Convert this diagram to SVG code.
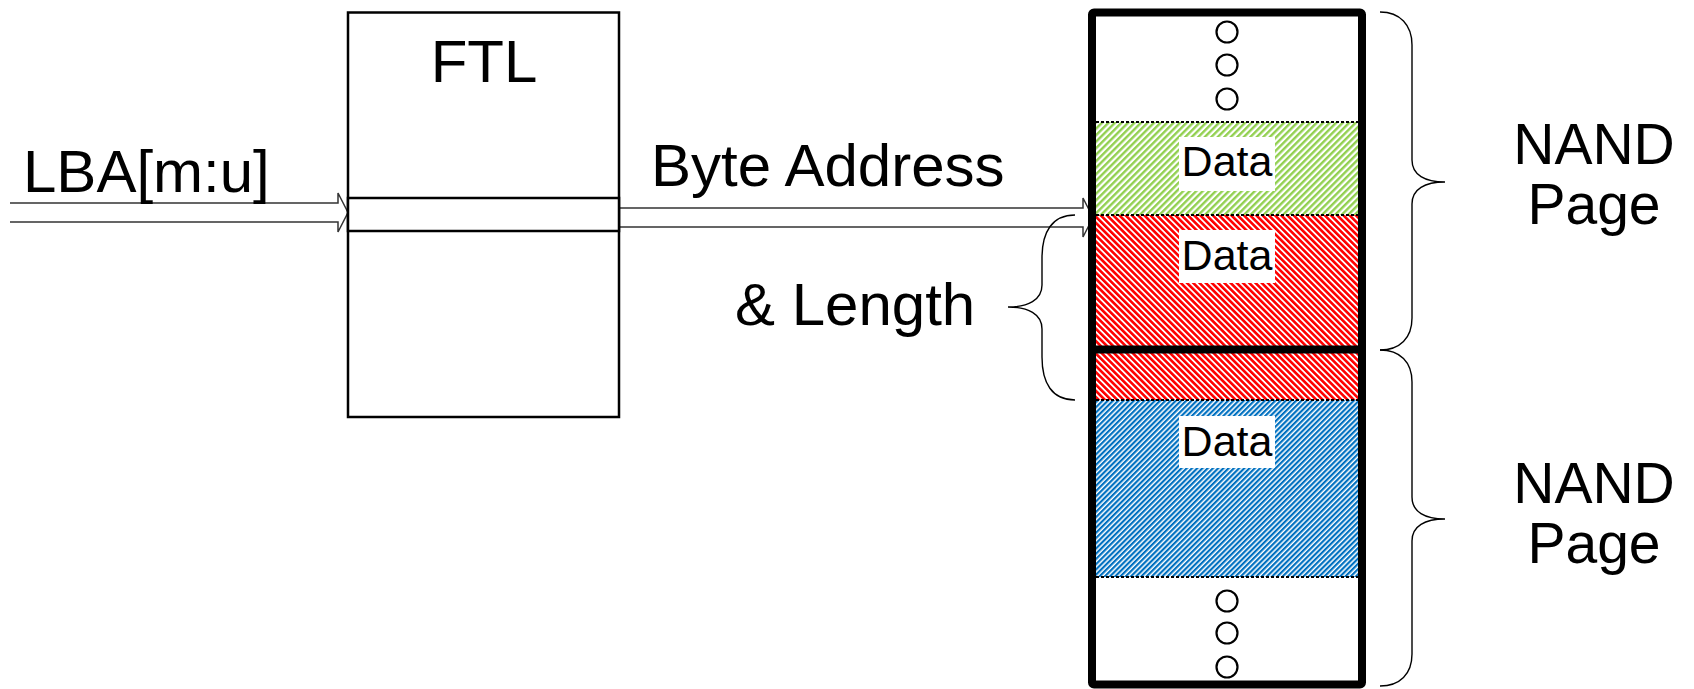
<svg xmlns="http://www.w3.org/2000/svg" width="1694" height="689" viewBox="0 0 1694 689">
<style>
.t{font-family:"Liberation Sans",Arial,sans-serif;fill:#000}
.big{font-size:60px}
.nand{font-size:57px}
.data{font-size:43px}
.conn{fill:none;stroke:#333;stroke-width:1.5;stroke-linejoin:miter}
.brace{fill:none;stroke:#000;stroke-width:1.4}
.dash{stroke:#000;stroke-width:2;stroke-dasharray:3 2}
.dot{fill:#fff;stroke:#000;stroke-width:2.2}
.lbl{fill:#fff}
</style>
<defs>
<pattern id="pg" width="4.6" height="4.6" patternUnits="userSpaceOnUse" patternTransform="rotate(45)"><rect width="2.4" height="4.6" fill="#92D050"/></pattern>
<pattern id="pr" width="4.4" height="4.4" patternUnits="userSpaceOnUse" patternTransform="rotate(-45)"><rect width="2.6" height="4.4" fill="#FF0000"/></pattern>
<pattern id="pb" width="3.7" height="3.7" patternUnits="userSpaceOnUse" patternTransform="rotate(45)"><rect width="2.2" height="3.7" fill="#0070C0"/></pattern>
</defs>
<rect width="1694" height="689" fill="#fff"/>

<g id="connectors">
<path class="conn" d="M10,203 L338,203 L338,193 L348,212.5 L338,232 L338,222 L10,222"/>
<path class="conn" d="M619,208 L1083,208 L1083,198 L1093,217.5 L1083,237 L1083,227 L619,227"/>
<path class="brace" d="M1075,215 C1052,215 1042,232 1042,258 L1042,285 C1042,300 1028,307 1008,307 C1028,307 1042,314 1042,329 L1042,357 C1042,383 1052,400 1075,400"/>
<path class="brace" d="M1380,12 C1400,12 1412,25 1412,45 L1412,160 C1412,175 1425,182 1445,182 C1425,182 1412,189 1412,204 L1412,318 C1412,338 1400,350 1380,350"/>
<path class="brace" d="M1380,350 C1400,350 1412,362 1412,382 L1412,497 C1412,512 1425,519 1445,519 C1425,519 1412,526 1412,541 L1412,654 C1412,674 1400,686 1380,686"/>
</g>

<g id="ftl">
<rect x="348" y="12.5" width="271" height="404.5" fill="#fff" stroke="#000" stroke-width="2.5"/>
<rect x="348" y="198" width="271" height="33" fill="#fff" stroke="#000" stroke-width="2.5"/>
<text class="t big" x="484" y="82" text-anchor="middle">FTL</text>
</g>

<g id="lba-label"><text class="t big" x="23" y="192">LBA[m:u]</text></g>
<g id="byte-address-label"><text class="t big" x="651" y="186">Byte Address</text></g>
<g id="length-label"><text class="t big" x="735" y="325">&amp; Length</text></g>

<g id="nand-block">
<rect x="1096" y="122" width="262" height="93" fill="url(#pg)"/>
<rect x="1096" y="215" width="262" height="185" fill="url(#pr)"/>
<rect x="1096" y="400" width="262" height="177" fill="url(#pb)"/>
<rect class="lbl" x="1179" y="137" width="96" height="54"/>
<rect class="lbl" x="1179" y="230" width="96" height="53"/>
<rect class="lbl" x="1179" y="416" width="96" height="52"/>
<text class="t data" x="1227" y="176" text-anchor="middle">Data</text>
<text class="t data" x="1227" y="270" text-anchor="middle">Data</text>
<text class="t data" x="1227" y="456" text-anchor="middle">Data</text>
<line class="dash" x1="1096" y1="122" x2="1358" y2="122"/>
<line class="dash" x1="1096" y1="215" x2="1358" y2="215"/>
<line class="dash" x1="1096" y1="400" x2="1358" y2="400"/>
<line class="dash" x1="1096" y1="577" x2="1358" y2="577"/>
<line x1="1092" y1="349.5" x2="1362" y2="349.5" stroke="#000" stroke-width="8"/>
<rect x="1092" y="12.5" width="270" height="672" rx="2" fill="none" stroke="#000" stroke-width="8" stroke-linejoin="round"/>
<circle class="dot" cx="1227" cy="32" r="10.5"/>
<circle class="dot" cx="1227" cy="65" r="10.5"/>
<circle class="dot" cx="1227" cy="99" r="10.5"/>
<circle class="dot" cx="1227" cy="601" r="10.5"/>
<circle class="dot" cx="1227" cy="633" r="10.5"/>
<circle class="dot" cx="1227" cy="667" r="10.5"/>
</g>

<g id="nand-page-1"><text class="t nand" text-anchor="middle"><tspan x="1594" y="164">NAND</tspan><tspan x="1594" y="224">Page</tspan></text></g>
<g id="nand-page-2"><text class="t nand" text-anchor="middle"><tspan x="1594" y="503">NAND</tspan><tspan x="1594" y="563">Page</tspan></text></g>
</svg>
